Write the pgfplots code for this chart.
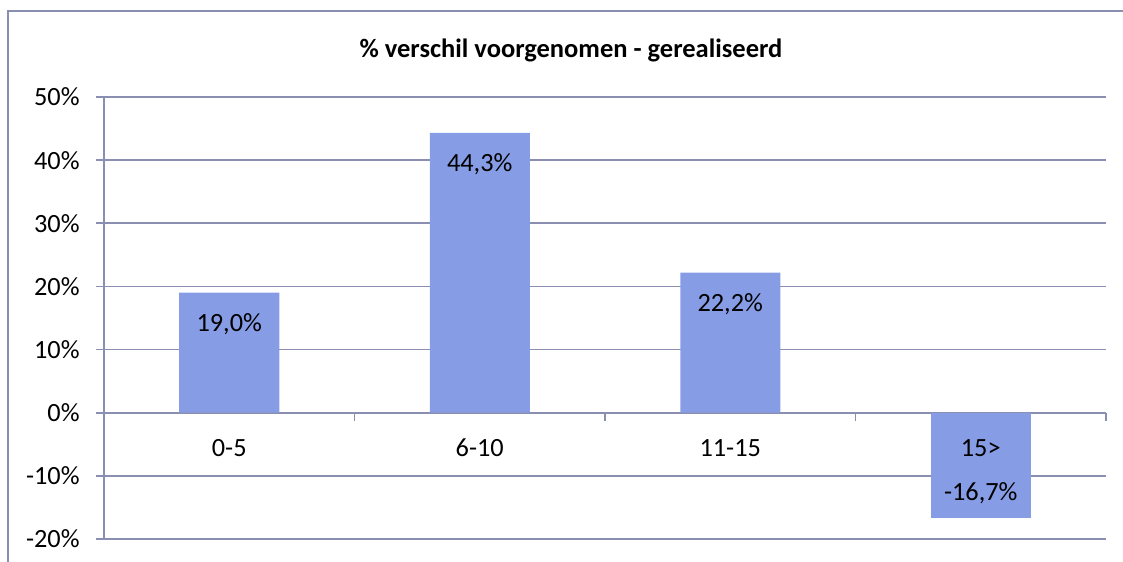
\documentclass[border=0pt]{standalone}
\usepackage{pgfplots}
\pgfplotsset{compat=1.18}
\usepackage{fontspec}
\setmainfont{Carlito}
\definecolor{barc}{RGB}{134,156,229}
\definecolor{gridc}{RGB}{138,142,176}
\newcommand{\lblfont}{\fontsize{13.2}{16}\selectfont}
\begin{document}
\begin{tikzpicture}
\useasboundingbox (0,0) rectangle (561.5bp,281bp);
\draw[gridc, line width=1bp] (4bp,0) -- (4bp,275.5bp) -- (561.5bp,275.5bp);
\node[font=\fontsize{13.3}{16}\selectfont\bfseries] at (285.5bp,256bp) {\% verschil voorgenomen - gerealiseerd};
\begin{axis}[
  at={(52bp,11.5bp)}, anchor=south west,
  scale only axis, width=501bp, height=221bp,
  xmin=-0.5, xmax=3.5, ymin=-20, ymax=50,
  axis x line*=middle, axis y line*=left,
  axis line style={gridc, line width=0.8bp, -},
  ytick={-20,-10,...,50},
  yticklabels={-20\%,-10\%,0\%,10\%,20\%,30\%,40\%,50\%},
  ymajorgrids, grid style={gridc, line width=0.8bp},
  tick style={gridc, line width=0.8bp},
  major tick length=4bp, tick align=outside,
  xtick={-0.5,0.5,1.5,2.5,3.5},
  xticklabels={},
  hide obscured x ticks=false,
  tick label style={font=\lblfont},
  yticklabel style={inner sep=0pt, xshift=-8bp},
  clip=false,
]
\addplot[ybar, bar width=50bp, bar shift=0pt, fill=barc, draw=none,
  nodes near coords, point meta=explicit symbolic,
  nodes near coords style={anchor=base, yshift=-19.5bp, font=\lblfont, text=black}]
  coordinates {(0,19.0) [19,0\%] (1,44.3) [44,3\%] (2,22.2) [22,2\%]};
\addplot[ybar, bar width=50bp, bar shift=0pt, fill=barc, draw=none,
  nodes near coords, point meta=explicit symbolic,
  nodes near coords style={anchor=base, yshift=9.0bp, font=\lblfont, text=black}]
  coordinates {(3,-16.7) [-16,7\%]};
\addplot[draw=none, mark=none,
  nodes near coords, point meta=explicit symbolic,
  nodes near coords style={anchor=base, yshift=-22bp, font=\lblfont, text=black}]
  coordinates {(0,0) [0-5] (1,0) [6-10] (2,0) [11-15] (3,0) [15>]};
\end{axis}
\end{tikzpicture}
\end{document}
